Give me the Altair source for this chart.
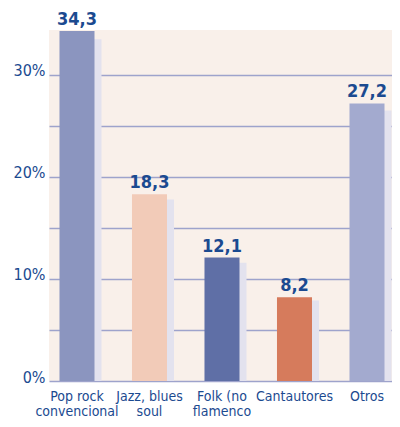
import altair as alt
import pandas as pd

categories = ["Pop rock|convencional", "Jazz, blues|soul", "Folk (no|flamenco", "Cantautores", "Otros"]
values = [34.3, 18.3, 12.1, 8.2, 27.2]
value_labels = ["34,3", "18,3", "12,1", "8,2", "27,2"]
shadow_values = [33.5, 17.8, 11.6, 7.9, 26.5]
colors = ["#8b95bf", "#f2cbb8", "#5f6fa6", "#d67b5c", "#a3aacf"]
y_ticks = [0, 5, 10, 15, 20, 25, 30]

df = pd.DataFrame({
    "cat": categories,
    "value": values,
    "label": value_labels,
    "shadow": shadow_values,
    "color": colors,
})

FONT = "DejaVu Sans Condensed, DejaVu Sans, sans-serif"
BLUE = "#1b4a90"

xscale = alt.Scale(paddingInner=0.517, paddingOuter=0.124, align=0.583)
x = alt.X("cat:N", sort=categories, scale=xscale, title=None,
          axis=alt.Axis(labelExpr="split(datum.label, '|')", labelAngle=0,
                        domain=False, ticks=False, labelPadding=8,
                        labelFont=FONT, labelFontSize=14, labelColor=BLUE,
                        labelLineHeight=15, labelBaseline="top"))

yscale = alt.Scale(domain=[0, 34.4], nice=False)

shadow = alt.Chart(df).mark_bar(xOffset=7, color="#e3e2ee").encode(
    x=x,
    y=alt.Y("shadow:Q", scale=yscale, title=None,
            axis=alt.Axis(values=y_ticks, grid=True, gridColor="#9ea3cc", gridWidth=1.6,
                          domain=False, ticks=False, labelPadding=4,
                          labelExpr="datum.value % 10 == 0 ? datum.value + '%' : ''",
                          labelFont=FONT, labelFontSize=16, labelColor=BLUE,
                          labelOffset=-4)),
)

bars = alt.Chart(df).mark_bar().encode(
    x=x,
    y=alt.Y("value:Q", scale=yscale),
    color=alt.Color("color:N", scale=None),
)

text = alt.Chart(df).mark_text(baseline="bottom", dy=-2, font=FONT, fontSize=18,
                               fontWeight="bold", color=BLUE).encode(
    x=x,
    y=alt.Y("value:Q", scale=yscale),
    text="label:N",
)

chart = alt.layer(shadow, bars, text).properties(
    width=343, height=351,
    autosize=alt.AutoSizeParams(type="none"),
    padding={"left": 41, "top": 22, "right": 0, "bottom": 38},
    background="white",
).configure_view(stroke=None, fill="#f9f0ea")

chart.save("out.html", embed_options={"renderer": "svg", "actions": False})
